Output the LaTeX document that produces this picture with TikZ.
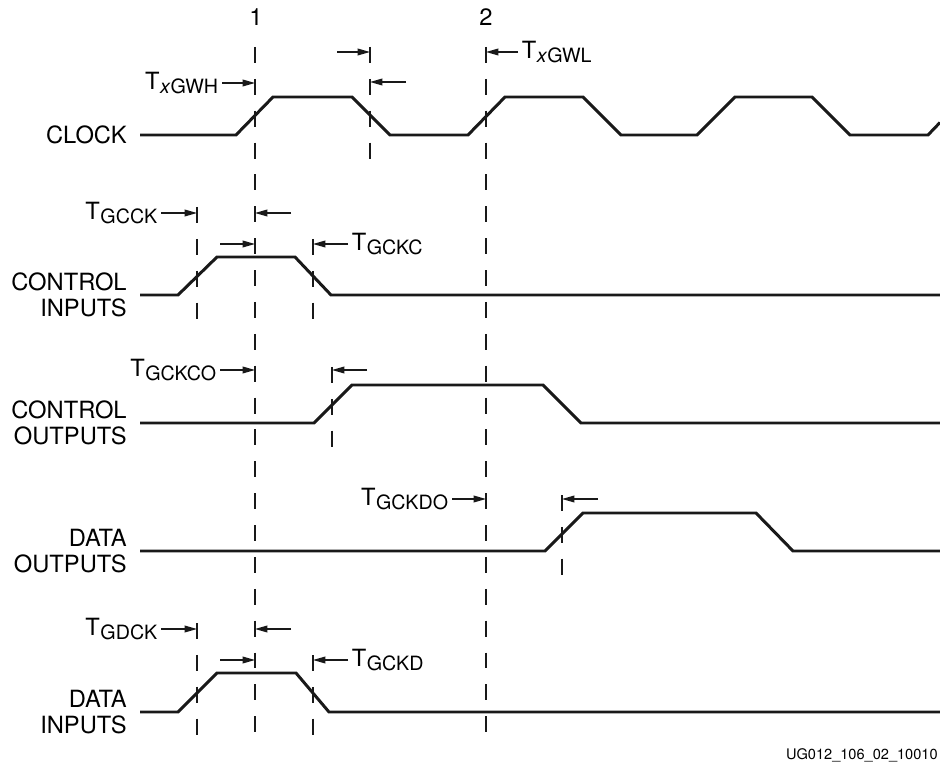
\documentclass[tikz,border=0pt]{standalone}
\usepackage{fontspec}
\setmainfont{TeX Gyre Heros}
\usepackage{tikz}
\usetikzlibrary{arrows.meta}
\newcommand{\tlab}[1]{T\kern0.3pt\raisebox{-2.8pt}{\fontsize{11.2}{13}\selectfont #1}}
\tikzset{
  sig/.style={line width=1.7pt, black!90, line join=miter},
  mrk/.style={line width=0.75pt, black!90, dash pattern=on 9.07pt off 9.07pt},
  tarr/.style={-{Triangle[length=7pt,width=3.8pt]}, line width=0.75pt, black!90},
  lbl/.style={inner sep=2pt, font=\fontsize{13.5}{15}\selectfont},
  sname/.style={inner sep=0pt, anchor=east, align=right, font=\fontsize{13.5}{15}\selectfont},
}

\begin{document}
\begin{tikzpicture}[x=0.02cm,y=-0.02cm]
  \useasboundingbox (0,0) rectangle (940,763);

  % signal names
  \node[sname] (nclk) at (127,135) {CLOCK};
  \node[sname] (ncin) at (127,295) {CONTROL\\INPUTS};
  \node[sname] (ncout) at (127,423) {CONTROL\\OUTPUTS};
  \node[sname] (ndout) at (127,551) {DATA\\OUTPUTS};
  \node[sname] (ndin) at (127,712) {DATA\\INPUTS};

  % waveforms
  \draw[sig] (140,135) -- (236,135) -- (273,97) -- (352,97) -- (390,135) -- (468,135)
    -- (505,97) -- (583,97) -- (621,135) -- (697,135) -- (735,97) -- (812,97)
    -- (850,135) -- (928,135) -- (940,122.5);
  \draw[sig] (140,295) -- (178,295) -- (217,257) -- (295,257) -- (331,295) -- (940,295);
  \draw[sig] (140,423) -- (314,423) -- (352,385) -- (543,385) -- (581,423) -- (940,423);
  \draw[sig] (140,551) -- (545,551) -- (583,513) -- (756,513) -- (793,551) -- (940,551);
  \draw[sig] (140,712) -- (178,712) -- (217,673) -- (296,673) -- (329,712) -- (940,712);

  % clock edges 1 and 2
  \node[lbl] (e1) at (256,17) {1};
  \node[lbl] (e2) at (486,17) {2};
  \draw[mrk] (255,47) -- (255,735);
  \draw[mrk] (486,47) -- (486,735);

  % short markers
  \draw[mrk] (370,47) -- (370,159);
  \draw[mrk] (197,207) -- (197,319);
  \draw[mrk] (313,239) -- (313,319);
  \draw[mrk] (332,367) -- (332,447);
  \draw[mrk] (562,495) -- (562,575);
  \draw[mrk] (197,623) -- (197,735);
  \draw[mrk] (313,655) -- (313,735);

  % clock widths
  \node[lbl, anchor=east] (gwh) at (222,83) {\tlab{\textit{x}GWH}};
  \coordinate (gwh1) at (255,83);
  \draw[tarr] (gwh.east) -- (gwh1);
  \coordinate (gwa0) at (337,52);
  \coordinate (gwa1) at (370,52);
  \draw[tarr] (gwa0) -- (gwa1);
  \coordinate (gwb0) at (406,82);
  \coordinate (gwb1) at (370,82);
  \draw[tarr] (gwb0) -- (gwb1);
  \node[lbl, anchor=west] (gwl) at (518,52) {\tlab{\textit{x}GWL}};
  \coordinate (gwl1) at (486,52);
  \draw[tarr] (gwl.west) -- (gwl1);

  % control inputs
  \node[lbl, anchor=east] (gcck) at (161,213) {\tlab{GCCK}};
  \coordinate (gcck1) at (197,213);
  \draw[tarr] (gcck.east) -- (gcck1);
  \coordinate (ca0) at (291,213);
  \coordinate (ca1) at (255,213);
  \draw[tarr] (ca0) -- (ca1);
  \coordinate (cb0) at (220,244);
  \coordinate (cb1) at (255,244);
  \draw[tarr] (cb0) -- (cb1);
  \node[lbl, anchor=west] (gckc) at (348,244) {\tlab{GCKC}};
  \coordinate (gckc1) at (313,244);
  \draw[tarr] (gckc.west) -- (gckc1);

  % control outputs
  \node[lbl, anchor=east] (gckco) at (220,370) {\tlab{GCKCO}};
  \coordinate (gckco1) at (255,370);
  \draw[tarr] (gckco.east) -- (gckco1);
  \coordinate (co0) at (367,370);
  \coordinate (co1) at (332,370);
  \draw[tarr] (co0) -- (co1);

  % data outputs
  \node[lbl, anchor=east] (gckdo) at (452,499) {\tlab{GCKDO}};
  \coordinate (gckdo1) at (486,499);
  \draw[tarr] (gckdo.east) -- (gckdo1);
  \coordinate (do0) at (598,499);
  \coordinate (do1) at (562,499);
  \draw[tarr] (do0) -- (do1);

  % data inputs
  \node[lbl, anchor=east] (gdck) at (161,629) {\tlab{GDCK}};
  \coordinate (gdck1) at (197,629);
  \draw[tarr] (gdck.east) -- (gdck1);
  \coordinate (da0) at (291,629);
  \coordinate (da1) at (255,629);
  \draw[tarr] (da0) -- (da1);
  \coordinate (db0) at (220,660);
  \coordinate (db1) at (255,660);
  \draw[tarr] (db0) -- (db1);
  \node[lbl, anchor=west] (gckd) at (348,660) {\tlab{GCKD}};
  \coordinate (gckd1) at (313,660);
  \draw[tarr] (gckd.west) -- (gckd1);

  \node[inner sep=0pt, anchor=east, font=\fontsize{8.3}{9}\selectfont] (fig) at (938,755) {UG012\_106\_02\_10010};
\end{tikzpicture}
\end{document}
